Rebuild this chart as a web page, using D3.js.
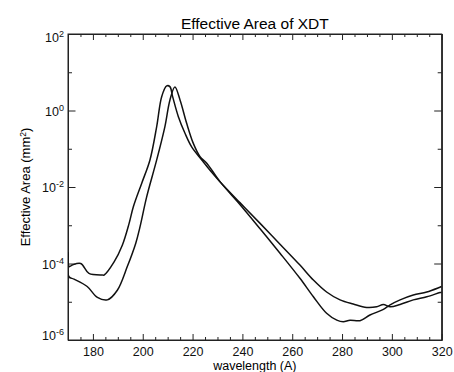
<!DOCTYPE html>
<html>
<head>
<meta charset="utf-8">
<script src="https://cdn.jsdelivr.net/npm/d3@7"></script>
<style>
  body { margin: 0; background: #fff; }
  svg { font-family: "Liberation Sans", Arial, Helvetica, sans-serif; }
  .axis path, .axis line { stroke: #222; stroke-width: 1; }
  .axis text { fill: #111; font-size: 12.5px; }
</style>
</head>
<body>
<svg id="chart"></svg>
<script>
// wavelength (A) and effective area (mm^2)
const wlA = [170.0, 170.5, 171.7, 175.1, 178.4, 183.8, 184.5, 188.5, 191.8, 194.5,
  196.2, 199.6, 202.9, 205.6, 207.6, 209.6, 210.9, 212.0, 214.3, 217.0, 219.7,
  223.7, 227.0, 231.0, 239.0, 247.1, 255.1, 263.1, 268.5, 273.8, 279.2, 284.5,
  289.9, 293.9, 296.6, 299.3, 303.3, 308.6, 314.0, 319.3, 320.0];
const areaA = [2.0e-4, 8.3e-5, 9.1e-5, 1.0e-4, 5.5e-5, 5.0e-5, 5.0e-5, 1.1e-4, 3.0e-4, 1.1e-3,
  3.0e-3, 1.26e-2, 5.1e-2, 0.38, 2.3, 4.4, 4.2, 2.3, 0.69, 0.25, 0.11,
  5.1e-2, 2.75e-2, 1.38e-2, 3.9e-3, 1.12e-3, 3.2e-4, 9.1e-5, 3.7e-5, 1.8e-5, 1.12e-5, 8.7e-6,
  7.1e-6, 7.4e-6, 8.5e-6, 7.4e-6, 8.5e-6, 1.12e-5, 1.35e-5, 1.74e-5, 1.78e-5];

const wlB = [170.0, 170.4, 172.4, 177.7, 181.8, 185.8, 189.8, 193.8, 197.2, 198.9,
  201.6, 205.6, 208.9, 210.9, 212.9, 215.0, 217.6, 220.3, 223.0, 225.7, 231.0,
  239.0, 247.1, 255.1, 263.1, 268.5, 273.8, 277.9, 280.5, 283.2, 287.2, 291.2,
  296.6, 299.3, 303.3, 308.6, 314.0, 319.3, 320.0];
const areaB = [1.8e-4, 4.5e-5, 3.9e-5, 2.5e-5, 1.3e-5, 1.12e-5, 2.0e-5, 8.3e-5, 3.4e-4, 9.1e-4,
  5.6e-3, 5.1e-2, 0.38, 1.86, 4.1, 1.86, 0.47, 0.138, 6.2e-2, 4.2e-2, 1.38e-2,
  3.5e-3, 8.1e-4, 1.86e-4, 4.1e-5, 1.35e-5, 5.0e-6, 3.3e-6, 3.0e-6, 3.3e-6, 3.2e-6, 4.5e-6,
  6.3e-6, 8.3e-6, 1.12e-5, 1.5e-5, 1.8e-5, 2.4e-5, 2.5e-5];

const xMajor = [180, 200, 220, 240, 260, 280, 300, 320];
const xMinor = d3.range(170, 321, 5).filter(v => v % 20 !== 0);
const yMajor = [1e2, 1e0, 1e-2, 1e-4, 1e-6];
const yMinor = [1e1, 1e-1, 1e-3, 1e-5];

const width = 454, height = 372;
const margin = { top: 34, right: 12.3, bottom: 32, left: 68 };
const w = width - margin.left - margin.right;
const h = height - margin.top - margin.bottom;

const svg = d3.select('#chart').attr('width', width).attr('height', height);

const x = d3.scaleLinear().domain([170, 320]).range([0, w]);
const y = d3.scaleLog().domain([1e-6, 1e2]).range([h, 0]);

const g = svg.append('g').attr('transform', `translate(${margin.left},${margin.top})`);

g.append('clipPath').attr('id', 'clip')
  .append('rect').attr('width', w).attr('height', h);

// minor ticks first
g.append('g').attr('class', 'axis').attr('transform', `translate(0,${h})`)
  .call(d3.axisBottom(x).tickValues(xMinor).tickSize(-3).tickSizeOuter(0).tickFormat(''));
g.append('g').attr('class', 'axis')
  .call(d3.axisTop(x).tickValues(xMinor).tickSize(-3).tickSizeOuter(0).tickFormat(''));
g.append('g').attr('class', 'axis')
  .call(d3.axisLeft(y).tickValues(yMinor).tickSize(-4).tickSizeOuter(0).tickFormat(''));
g.append('g').attr('class', 'axis').attr('transform', `translate(${w},0)`)
  .call(d3.axisRight(y).tickValues(yMinor).tickSize(-4).tickSizeOuter(0).tickFormat(''));

// major ticks
g.append('g').attr('class', 'axis').attr('transform', `translate(0,${h})`)
  .call(d3.axisBottom(x).tickValues(xMajor).tickSize(-6).tickSizeOuter(0).tickPadding(7).tickFormat(d3.format('d')));
g.append('g').attr('class', 'axis')
  .call(d3.axisTop(x).tickValues(xMajor).tickSize(-6).tickSizeOuter(0).tickFormat(''));
g.append('g').attr('class', 'axis').attr('transform', `translate(${w},0)`)
  .call(d3.axisRight(y).tickValues(yMajor).tickSize(-7.5).tickSizeOuter(0).tickFormat(''));

const yAxis = g.append('g').attr('class', 'axis')
  .call(d3.axisLeft(y).tickValues(yMajor).tickSize(-7.5).tickSizeOuter(0).tickPadding(11).tickFormat(''));

// labels as 10 with superscript exponent
yAxis.selectAll('.tick text').each(function(d) {
  const t = d3.select(this);
  const e = Math.round(Math.log10(d));
  const shift = e === 2 ? 7 : (e === -6 ? -1 : 4.5);
  t.attr('dy', null).attr('y', shift).attr('x', -4);
  t.append('tspan').text('10');
  t.append('tspan').attr('dy', -5).style('font-size', '9px').text(e);
});

// frame lines on all sides
g.append('rect').attr('width', w).attr('height', h)
  .attr('fill', 'none').attr('stroke', '#222').attr('stroke-width', 1);

const line = d3.line()
  .x(d => x(d[0]))
  .y(d => y(d[1]))
  .curve(d3.curveCatmullRom.alpha(0.5));

const series = [d3.zip(wlA, areaA), d3.zip(wlB, areaB)];
g.append('g').attr('clip-path', 'url(#clip)')
  .selectAll('path').data(series).join('path')
  .attr('d', line)
  .attr('fill', 'none')
  .attr('stroke', '#111')
  .attr('stroke-width', 1.5);

svg.append('text')
  .attr('x', margin.left + w / 2)
  .attr('y', 29)
  .attr('text-anchor', 'middle')
  .style('font-size', '15.5px')
  .text('Effective Area of XDT');

svg.append('text')
  .attr('x', margin.left + w / 2)
  .attr('y', 370)
  .attr('text-anchor', 'middle')
  .style('font-size', '12.5px')
  .text('wavelength (A)');

const yl = svg.append('text')
  .attr('transform', `translate(30,${margin.top + h / 2}) rotate(-90)`)
  .attr('text-anchor', 'middle')
  .style('font-size', '13px');
yl.append('tspan').text('Effective Area (mm');
yl.append('tspan').attr('dy', -4).style('font-size', '8.5px').text('2');
yl.append('tspan').attr('dy', 4).text(')');
</script>
</body>
</html>
